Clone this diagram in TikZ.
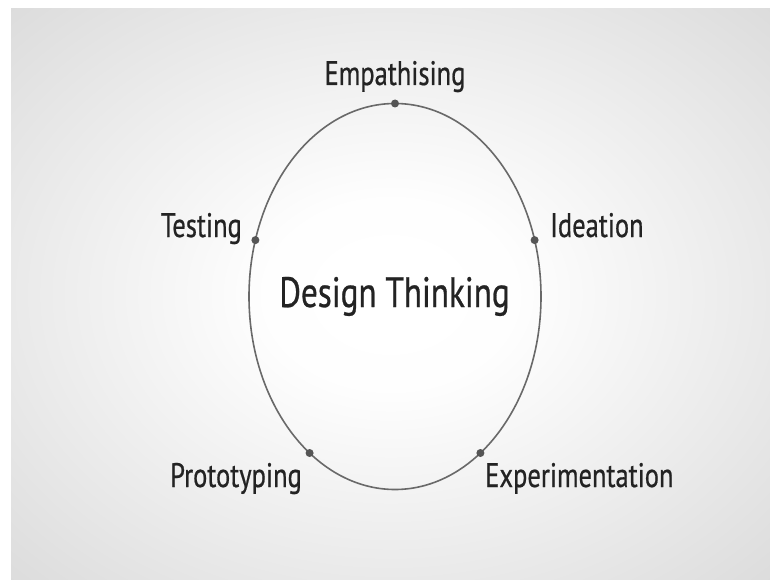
\documentclass[tikz,border=0pt]{standalone}
\usepackage{fontspec}
\setmainfont[FakeStretch=0.78,FakeBold=0.6]{PT Sans}
\definecolor{bggray}{RGB}{217,217,217}
\definecolor{ringgray}{RGB}{105,105,105}
\definecolor{dotgray}{RGB}{85,85,85}
\definecolor{txt}{RGB}{35,35,35}
\pgfdeclareradialshading{bgshade}{\pgfpoint{0bp}{0bp}}{color(0bp)=(white); color(8bp)=(white!98!bggray); color(38bp)=(bggray); color(50bp)=(bggray)}
\tikzset{
  stagelabel/.style={inner sep=0pt, text=txt, font=\fontsize{34}{40}\selectfont},
  titlelabel/.style={inner sep=0pt, text=txt, font=\fontsize{42.5}{48}\selectfont},
  stagedot/.style={circle, fill=dotgray, inner sep=0pt, minimum size=8pt},
}
\begin{document}
\begin{tikzpicture}[x=1pt,y=-1pt]
\useasboundingbox (0,0) rectangle (770,580);
\fill[white] (0,0) rectangle (770,580);
\shade[shading=bgshade] (11,9) rectangle (770,580);
\draw[ringgray, line width=1.6pt] (395,296.5) ellipse [x radius=146, y radius=193];
\node[stagedot] (dtop) at (395,103.5) {};
\node[stagedot] (dright) at (534.6,240.1) {};
\node[stagedot] (dleft) at (255.4,240.1) {};
\node[stagedot] (dlr) at (480.4,453) {};
\node[stagedot] (dll) at (309.6,453) {};
\node[stagelabel, anchor=base] (emp) at (395,85) {Empathising};
\node[stagelabel, anchor=base east] (test) at (242,237) {Testing};
\node[stagelabel, anchor=base west] (idea) at (550,237) {Ideation};
\node[titlelabel, anchor=base] (title) at (394.5,307) {Design Thinking};
\node[stagelabel, anchor=base east] (proto) at (302,487) {Prototyping};
\node[stagelabel, anchor=base west] (exp) at (485,487) {Experimentation};
\end{tikzpicture}
\end{document}
